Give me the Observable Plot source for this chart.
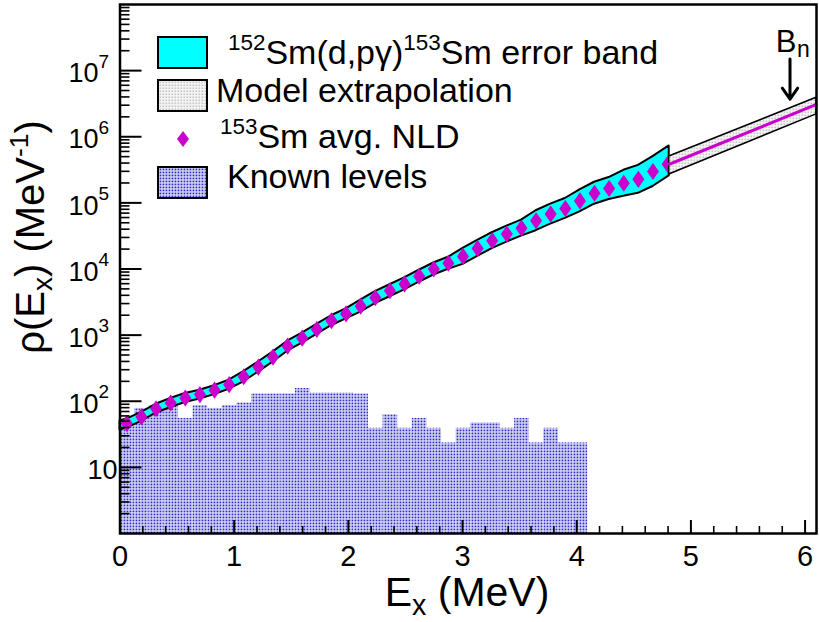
<!DOCTYPE html>
<html><head><meta charset="utf-8">
<script src="https://cdn.jsdelivr.net/npm/d3@7"></script>
<script src="https://cdn.jsdelivr.net/npm/@observablehq/plot@0.6"></script>
<style>
 html,body{margin:0;padding:0;background:#fff;}
 #wrap{position:relative;width:819px;height:622px;font-family:"Liberation Sans",Arial,Helvetica,sans-serif;color:#000;}
 #wrap svg{display:block;}
 .ov{position:absolute;white-space:nowrap;line-height:1;}
 .sp{font-size:0.66em;vertical-align:0.62em;line-height:0;}
 .sb{font-size:0.7em;vertical-align:-0.3em;line-height:0;}
</style></head><body>
<svg width="0" height="0" style="position:absolute">
 <defs>
  <pattern id="bluedots" width="3" height="3" patternUnits="userSpaceOnUse">
   <rect width="3" height="3" fill="#dcdcf6"/>
   <rect x="0.6" y="0.6" width="1.7" height="1.7" fill="#2c2cc2"/>
  </pattern>
  <pattern id="greydots" width="3" height="3" patternUnits="userSpaceOnUse">
   <rect width="3" height="3" fill="#f6f6f6"/>
   <rect x="0.5" y="0.5" width="1.6" height="1.6" fill="#c4c4c4"/>
  </pattern>
 </defs>
</svg>
<div id="wrap"></div>
<script>
// ---- data ----
const nldE = [0.06,0.188,0.316,0.444,0.572,0.7,0.828,0.956,1.084,1.212,1.34,1.468,1.596,1.724,1.852,1.98,2.108,2.236,2.364,2.492,2.62,2.748,2.876,3.004,3.132,3.26,3.388,3.516,3.644,3.772,3.9,4.028,4.156,4.284,4.412,4.54,4.668,4.796];
const nldRho = [46,58,77,94,112,126,147,178,235,329,465,680,900,1220,1650,2100,2740,3680,4690,5950,7770,10000,12200,15500,20500,26800,33700,41500,53700,67600,82300,107000,140000,165000,198000,227000,298000,384000];

const bandE = [0,0.06,0.188,0.316,0.444,0.572,0.7,0.828,0.956,1.084,1.212,1.34,1.468,1.596,1.724,1.852,1.98,2.108,2.236,2.364,2.492,2.62,2.748,2.876,3.004,3.132,3.26,3.388,3.516,3.644,3.772,3.9,4.028,4.156,4.284,4.412,4.54,4.668,4.81];
const bandLo = [36.8,39.3,49.6,65.9,80.4,95.8,108,126,152,197,276,391,571,756,1025,1387,1765,2224,2987,3807,4830,6307,8117,9903,11740,15530,20300,25530,31440,37950,47770,58160,73040,95560,112600,126000,139600,177000,256000];
const bandHi = [50.3,53.8,67.8,90,110,131,147,172,208,280,392,553,809,1071,1452,1964,2499,3376,4534,5778,7330,9573,12320,15030,20460,27060,35380,44480,54780,75990,95650,116500,156800,205100,241700,311000,369100,501800,726000];

const modelE = [4.81, 6.1];
const modelRho = [384000, 3080000];
const modelLo = [268000, 2180000];
const modelHi = [501000, 3890000];

const levelEdges = [0,0.128,0.256,0.384,0.512,0.64,0.768,0.896,1.024,1.152,1.28,1.408,1.536,1.664,1.792,1.92,2.048,2.176,2.304,2.432,2.56,2.688,2.816,2.944,3.072,3.2,3.328,3.456,3.584,3.712,3.84,3.968,4.096];
const levelRho = [47,78,86,86,55,86,78,86,94,129,129,129,156,133,133,133,129,39,62.5,39,55,39,23.4,39,47,47,39,55,23.4,39,23.4,23.4];

const bnE = 5.868;
const bnArrowFrom = 1.5e7, bnArrowTo = 3.7e6, bnLabelAt = 1.92e7;

const xTickValues = [0,1,2,3,4,5,6];
const xTickLabels = ["0","1","2","3","4","5","6"];
const yTickValues = [10,1e2,1e3,1e4,1e5,1e6,1e7];
const yTickExps = ["","2","3","4","5","6","7"];

// ---- layout ----
const W = 819, H = 622, ml = 119.5, mr = 3, mt = 4, mb = 89;
const fw = W - ml - mr, fh = H - mt - mb;

const nld = nldE.map((e, i) => ({e, rho: nldRho[i]}));
const band = bandE.map((e, i) => ({e, lo: bandLo[i], hi: bandHi[i]}));
const model = modelE.map((e, i) => ({e, rho: modelRho[i], lo: modelLo[i], hi: modelHi[i]}));
const levels = levelRho.map((r, i) => ({x1: levelEdges[i], x2: levelEdges[i + 1], r}));
const yTicks = yTickValues.map((v, i) => ({v, exp: yTickExps[i]}));
const xTicks = xTickValues.map((v, i) => ({v, label: xTickLabels[i]}));

const minorY = [];
for (let k = 0; k < 8; k++) for (let m = 2; m <= 9; m++) minorY.push(m * Math.pow(10, k));
const minorX = [];
for (let i = 1; i * 0.2 <= 6.1; i++) if (i % 5 !== 0) minorX.push(+(i * 0.2).toFixed(1));

// ROOT-like diamond marker (narrower than tall)
const rootDiamond = {
  draw(context, size) {
    const r = Math.sqrt(size / Math.PI);
    const hx = r, hy = 1.43 * r;
    context.moveTo(0, -hy); context.lineTo(hx, 0); context.lineTo(0, hy); context.lineTo(-hx, 0); context.closePath();
  }
};

const chart = Plot.plot({
  width: W, height: H,
  marginLeft: ml, marginRight: mr, marginTop: mt, marginBottom: mb,
  x: {domain: [0, 6.1], axis: null},
  y: {type: "log", domain: [1, 1e8], axis: null},
  style: {fontFamily: '"Liberation Sans", Arial, Helvetica, sans-serif', background: "white", color: "black"},
  marks: [
    Plot.rect(levels, {x1: "x1", x2: "x2", y1: 1, y2: "r", fill: "url(#bluedots)"}),
    Plot.areaY(band, {x: "e", y1: "lo", y2: "hi", fill: "#00ffff", stroke: "black", strokeWidth: 2, strokeLinejoin: "round"}),
    Plot.dot(nld, {x: "e", y: "rho", symbol: rootDiamond, r: 6, fill: "#cc00cc"}),
    Plot.areaY(model, {x: "e", y1: "lo", y2: "hi", fill: "url(#greydots)", stroke: "black", strokeWidth: 1.6}),
    Plot.line(model, {x: "e", y: "rho", stroke: "#cc00cc", strokeWidth: 3}),
    Plot.arrow([bnE], {x1: d => d, x2: d => d, y1: () => bnArrowFrom, y2: () => bnArrowTo, stroke: "black", strokeWidth: 3, headLength: 12, headAngle: 70}),
    Plot.text([bnE], {x: d => d, y: () => bnLabelAt, text: () => "B", fontSize: 31, textAnchor: "middle", lineAnchor: "bottom", dx: -4}),
    Plot.text([bnE], {x: d => d, y: () => bnLabelAt, text: () => "n", fontSize: 23, textAnchor: "start", lineAnchor: "bottom", dx: 7, dy: 5}),
    // ticks (inside, ROOT style)
    Plot.tickX(xTickValues, {x: d => d, insetTop: fh - 13, stroke: "black", strokeWidth: 2}),
    Plot.tickX(minorX, {x: d => d, insetTop: fh - 7, stroke: "black", strokeWidth: 1.6}),
    Plot.tickY(yTickValues, {y: d => d, insetRight: fw - 22, stroke: "black", strokeWidth: 2}),
    Plot.tickY(minorY, {y: d => d, insetRight: fw - 10, stroke: "black", strokeWidth: 1.6}),
    // tick labels
    Plot.text(xTicks, {x: "v", text: "label", frameAnchor: "bottom", lineAnchor: "top", dy: 12, fontSize: 29}),
    Plot.text(yTicks.filter(d => d.exp), {y: "v", text: () => "10", frameAnchor: "left", textAnchor: "end", dx: -21.5, dy: 3, fontSize: 27}),
    Plot.text(yTicks.filter(d => d.exp), {y: "v", text: "exp", frameAnchor: "left", textAnchor: "start", dx: -21.5, dy: -9, fontSize: 19}),
    Plot.text(yTicks.filter(d => !d.exp), {y: "v", text: () => "10", frameAnchor: "left", textAnchor: "end", dx: -2.5, dy: 3, fontSize: 27}),
    Plot.frame({stroke: "black", strokeWidth: 2.5})
  ]
});

const wrap = document.getElementById("wrap");
wrap.appendChild(chart);

// legend swatches and axis titles (overlay)
wrap.insertAdjacentHTML("beforeend", `
<svg class="ov" style="left:0;top:0" width="${W}" height="${H}">
  <rect x="158" y="37" width="49" height="31" fill="#00ffff" stroke="black" stroke-width="2"/>
  <rect x="158" y="80" width="49" height="31" fill="url(#greydots)" stroke="black" stroke-width="2"/>
  <path d="M183,131 L189,139 L183,147 L177,139 Z" fill="#cc00cc"/>
  <rect x="158" y="167" width="49" height="31" fill="url(#bluedots)" stroke="black" stroke-width="2"/>
</svg>
<div class="ov" style="left:228px;top:35px;font-size:34px"><span class="sp">152</span>Sm(d,pγ)<span class="sp">153</span>Sm error band</div>
<div class="ov" style="left:216px;top:73px;font-size:34px">Model extrapolation</div>
<div class="ov" style="left:220px;top:119px;font-size:34px"><span class="sp">153</span>Sm avg. NLD</div>
<div class="ov" style="left:227px;top:159px;font-size:34px">Known levels</div>
<div class="ov" style="left:467px;top:572px;font-size:41px;transform:translateX(-50%)">E<span class="sb">x</span> (MeV)</div>
<div class="ov" style="left:30px;top:237px;font-size:40px;transform:translate(-50%,-50%) rotate(-90deg)">ρ(E<span class="sb">x</span>) (MeV<span class="sp">-1</span>)</div>
`);
</script>
</body></html>
